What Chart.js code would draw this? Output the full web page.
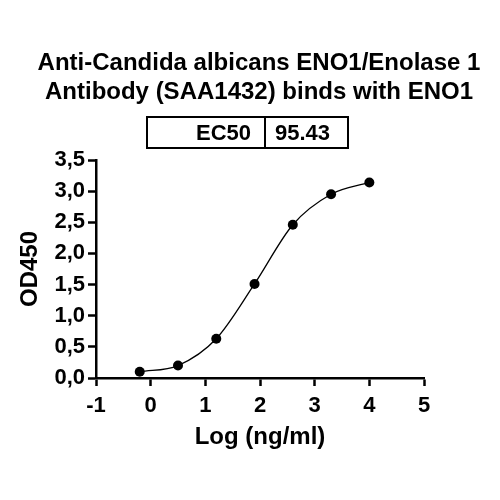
<!DOCTYPE html>
<html>
<head>
<meta charset="utf-8">
<title>ENO1 binding ELISA</title>
<script src="https://cdn.jsdelivr.net/npm/chart.js@4.4.1/dist/chart.umd.min.js"></script>
<style>
  html, body { margin: 0; padding: 0; background: #fff; }
  canvas { display: block; }
</style>
</head>
<body>
<canvas id="chart" width="500" height="500"></canvas>
<script>
// data
const logConc = [-0.2, 0.5, 1.2, 1.9, 2.6, 3.3, 4.0];
const od450   = [0.10, 0.20, 0.63, 1.51, 2.46, 2.95, 3.14];

const xTicks = [-1, 0, 1, 2, 3, 4, 5];
const yTicks = [0, 0.5, 1, 1.5, 2, 2.5, 3, 3.5];

const titleLines = ['Anti-Candida albicans ENO1/Enolase 1', 'Antibody (SAA1432) binds with ENO1'];
const ec50Label = 'EC50';
const ec50Value = '95.43';

const FONT = '"Liberation Sans", Arial, sans-serif';

const points = logConc.map((x, i) => ({ x: x, y: od450[i] }));

// title + EC50 table drawn on top of the canvas
const headerPlugin = {
  id: 'header',
  afterDraw(chart) {
    const ctx = chart.ctx;
    ctx.save();
    ctx.fillStyle = '#000';
    ctx.textAlign = 'center';
    ctx.textBaseline = 'alphabetic';
    ctx.font = 'bold 24px ' + FONT;
    ctx.fillText(titleLines[0], 259, 70);
    ctx.fillText(titleLines[1], 259, 98.5);

    ctx.strokeStyle = '#000';
    ctx.lineWidth = 2;
    ctx.strokeRect(147, 117, 201, 31);
    ctx.beginPath();
    ctx.moveTo(265, 117);
    ctx.lineTo(265, 148);
    ctx.stroke();

    ctx.font = 'bold 22px ' + FONT;
    ctx.textAlign = 'right';
    ctx.fillText(ec50Label, 251, 140);
    ctx.textAlign = 'left';
    ctx.fillText(ec50Value, 275, 140);
    ctx.restore();
  }
};

const axisStyle = {
  border: { display: true, color: '#000', width: 2.5 },
  grid: { display: true, drawOnChartArea: false, drawTicks: true, tickLength: 8, tickWidth: 2.5, tickColor: '#000' }
};

new Chart(document.getElementById('chart').getContext('2d'), {
  type: 'scatter',
  data: {
    datasets: [
      {
        label: 'fit',
        data: points,
        showLine: true,
        cubicInterpolationMode: 'monotone',
        borderColor: '#000',
        borderWidth: 1.3,
        pointRadius: 0,
        fill: false
      },
      {
        label: 'OD450',
        data: points,
        showLine: false,
        pointRadius: 5,
        pointBackgroundColor: '#000',
        pointBorderColor: '#000',
        pointBorderWidth: 0
      }
    ]
  },
  options: {
    responsive: false,
    animation: false,
    layout: { padding: { top: 160, left: 16, right: 76, bottom: 48 } },
    plugins: {
      legend: { display: false },
      title: { display: false },
      tooltip: { enabled: false }
    },
    scales: {
      x: {
        type: 'linear',
        min: -1,
        max: 5,
        afterFit: scale => { scale.height = 74; },
        afterBuildTicks: scale => { scale.ticks = xTicks.map(v => ({ value: v })); },
        ticks: {
          color: '#000',
          padding: 7,
          font: { family: FONT, size: 22, weight: 'bold' },
          callback: v => String(v)
        },
        title: {
          display: true,
          text: 'Log (ng/ml)',
          color: '#000',
          padding: 0,
          font: { family: FONT, size: 24, weight: 'bold' }
        },
        ...axisStyle
      },
      y: {
        type: 'linear',
        min: 0,
        max: 3.5,
        afterFit: scale => { scale.width = 80; },
        afterBuildTicks: scale => { scale.ticks = yTicks.map(v => ({ value: v })); },
        ticks: {
          color: '#000',
          padding: 3,
          font: { family: FONT, size: 22, weight: 'bold' },
          callback: v => v.toFixed(1).replace('.', ',')
        },
        title: {
          display: true,
          text: 'OD450',
          color: '#000',
          padding: 0,
          font: { family: FONT, size: 24, weight: 'bold' }
        },
        ...axisStyle
      }
    }
  },
  plugins: [headerPlugin]
});
</script>
</body>
</html>
